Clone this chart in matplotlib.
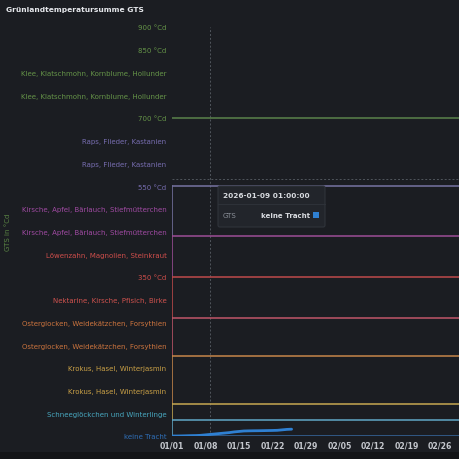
import matplotlib
matplotlib.use("Agg")
import matplotlib.pyplot as plt
import matplotlib.dates as mdates
from matplotlib.patches import Rectangle, FancyBboxPatch
import numpy as np
from datetime import datetime, timedelta

# ---- data ----
tick_values = [0, 50, 100, 150, 200, 250, 300, 350, 400, 450, 500, 550, 600, 650, 700, 750, 800, 850, 900]
tick_labels = ["keine Tracht", "Schneeglöckchen und Winterlinge", "Krokus, Hasel, Winterjasmin",
               "Krokus, Hasel, Winterjasmin", "Osterglocken, Weidekätzchen, Forsythien",
               "Osterglocken, Weidekätzchen, Forsythien", "Nektarine, Kirsche, Pfisich, Birke",
               "350 °Cd", "Löwenzahn, Magnolien, Steinkraut", "Kirsche, Apfel, Bärlauch, Stiefmütterchen",
               "Kirsche, Apfel, Bärlauch, Stiefmütterchen", "550 °Cd", "Raps, Flieder, Kastanien",
               "Raps, Flieder, Kastanien", "700 °Cd", "Klee, Klatschmohn, Kornblume, Hollunder",
               "Klee, Klatschmohn, Kornblume, Hollunder", "850 °Cd", "900 °Cd"]
tick_colors = ["#2f6fb8", "#48a8c0", "#c9a046", "#c9a046", "#cc743e", "#cc743e", "#cf524e",
               "#cf4e4b", "#cf4e4b", "#a04aa2", "#a04aa2", "#776db0", "#776db0", "#776db0",
               "#659448", "#659448", "#659448", "#659448", "#659448"]

threshold_values = [700, 550, 440, 350, 260, 175, 70, 35, 0]
threshold_colors = ["#587e4a", "#73709e", "#984c92", "#b8484a", "#b95466", "#c08248", "#c0a250", "#5ea2c0", "#36659a"]

start = datetime(2026, 1, 1)
gts_values = [0, 0, 0.2, 0.5, 0.8, 1.0, 1.5, 2.5, 3.5, 4.5, 5.5, 6.5, 7.5, 9.0, 10.0, 11.0,
              11.3, 11.5, 11.6, 11.8, 12.0, 12.2, 12.5, 13.5, 14.5, 15.0]
gts_dates = [start + timedelta(days=i) for i in range(len(gts_values))]

x_ticks = [start + timedelta(days=7 * i) for i in range(9)]
x_end = start + timedelta(days=60.2)
cursor_date = datetime(2026, 1, 9, 1)
cursor_value = 565

bg = "#1b1d22"
fig = plt.figure(figsize=(4.6, 4.6), dpi=100, facecolor=bg)
ax = fig.add_axes([172 / 460, 23 / 460, 288 / 460, 409 / 460])
ax.set_facecolor(bg)
for s in ax.spines.values():
    s.set_visible(False)

ax.set_xlim(start, x_end)
ax.set_ylim(0, 900)

# threshold step lines
for i, (v, c) in enumerate(zip(threshold_values, threshold_colors)):
    ax.plot([start, x_end], [v, v], color=c, lw=1.15, zorder=2, solid_capstyle="butt")
    if i > 0 and i + 1 < len(threshold_values):
        nxt = threshold_values[i + 1]
        ax.plot([start, start], [v, nxt], color=c, lw=1.15, zorder=2)

# crosshair
ax.axvline(cursor_date, color="#50555c", lw=0.7, ls=(0, (2, 2)), zorder=1)
ax.axhline(cursor_value, color="#50555c", lw=0.7, ls=(0, (2, 2)), zorder=1)

# series
ax.plot(gts_dates, gts_values, color="#2f80d2", lw=2, zorder=3, solid_capstyle="round")

ax.set_yticks(tick_values)
ax.set_yticklabels(tick_labels)
for lbl, c in zip(ax.get_yticklabels(), tick_colors):
    lbl.set_color(c)
    lbl.set_fontsize(5.05)
ax.tick_params(axis="y", length=0, pad=4)

ax.set_xticks(x_ticks)
ax.xaxis.set_major_formatter(mdates.DateFormatter("%m/%d"))
ax.tick_params(axis="x", length=0, pad=3, labelsize=5.6, labelcolor="#c4c7cd")
for lbl in ax.get_xticklabels():
    lbl.set_fontweight("bold")

# axis name
fig.text(8 / 460, 1 - 232 / 460, "GTS in °Cd", rotation=90, color="#5a8444", fontsize=5,
         ha="center", va="center")

# title
fig.text(6 / 460, 1 - 10 / 460, "Grünlandtemperatursumme GTS", color="#e6e8ec", fontsize=5.4,
         fontweight="bold", ha="left", va="center")

# bottom strip
fig.patches.append(Rectangle((0, 0), 1, 7 / 460, transform=fig.transFigure, facecolor="#131417",
                             edgecolor="none", zorder=0))

# tooltip
def fx(px):
    return px / 460
def fy(py):
    return 1 - py / 460

tip = FancyBboxPatch((fx(218), fy(228)), fx(325) - fx(218), fy(187) - fy(228),
                     boxstyle="round,pad=0,rounding_size=0.004", transform=fig.transFigure,
                     facecolor="#22252b", edgecolor="#30343b", lw=0.8, zorder=10)
fig.patches.append(tip)
fig.lines.append(plt.Line2D([fx(218), fx(325)], [fy(205), fy(205)], transform=fig.transFigure,
                            color="#30343b", lw=0.6, zorder=11))
fig.text(fx(223), fy(196), "2026-01-09 01:00:00", color="#d8dbe0", fontsize=5.3,
         fontweight="bold", ha="left", va="center", zorder=12)
fig.text(fx(223), fy(216), "GTS", color="#8a8f98", fontsize=5, ha="left", va="center", zorder=12)
fig.text(fx(310), fy(216), "keine Tracht", color="#d8dbe0", fontsize=5, fontweight="bold",
         ha="right", va="center", zorder=12)
fig.patches.append(Rectangle((fx(313), fy(219)), fx(6), fx(6), transform=fig.transFigure,
                             facecolor="#2f80d2", edgecolor="none", zorder=12))

fig.savefig("out.png", dpi=100, facecolor=bg)
